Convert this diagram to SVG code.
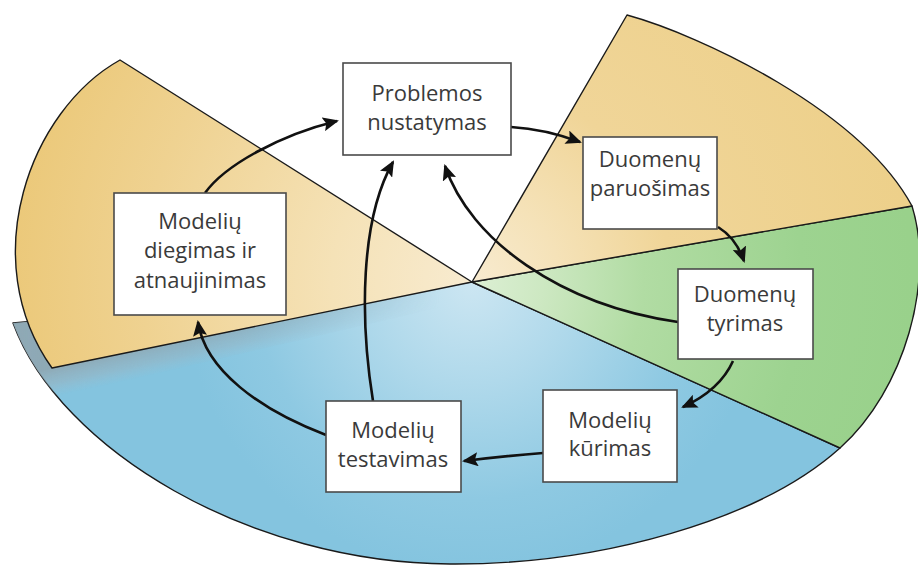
<svg xmlns="http://www.w3.org/2000/svg" width="918" height="565" viewBox="0 0 918 565">
  <defs>
    <style>
      .sector { stroke: #1a1a1a; stroke-width: 1.4; stroke-linejoin: round; }
      .box { fill: #ffffff; stroke: #4a4a4a; stroke-width: 1.6; }
      .label { font-family: "Open Sans", "Noto Sans", "Liberation Sans", sans-serif; font-size: 22px; fill: #3a3a3a; text-anchor: middle; }
      .flow { fill: none; stroke: #111111; stroke-width: 2.6; marker-end: url(#arrowhead); }
    </style>
    <marker id="arrowhead" viewBox="0 0 16 14" refX="14" refY="7" markerWidth="16" markerHeight="14" markerUnits="userSpaceOnUse" orient="auto">
      <path d="M0,0 L16,7 L0,14 L3,7 Z" fill="#111111"/>
    </marker>
    <radialGradient id="tanLeft" gradientUnits="userSpaceOnUse" cx="472" cy="282" r="470">
      <stop offset="0" stop-color="#f8ebd0"/>
      <stop offset="0.3" stop-color="#f5e2b7"/>
      <stop offset="0.7" stop-color="#efd291"/>
      <stop offset="1" stop-color="#ebc878"/>
    </radialGradient>
    <radialGradient id="tanRight" gradientUnits="userSpaceOnUse" cx="472" cy="282" r="440">
      <stop offset="0" stop-color="#f8ebd0"/>
      <stop offset="0.2" stop-color="#f5e2b8"/>
      <stop offset="0.45" stop-color="#f0d598"/>
      <stop offset="1" stop-color="#edd08a"/>
    </radialGradient>
    <radialGradient id="greenFill" gradientUnits="userSpaceOnUse" cx="472" cy="282" r="440">
      <stop offset="0" stop-color="#dcefd4"/>
      <stop offset="0.16" stop-color="#cde8c2"/>
      <stop offset="0.39" stop-color="#b1dca3"/>
      <stop offset="0.75" stop-color="#9dd390"/>
      <stop offset="1" stop-color="#99d18b"/>
    </radialGradient>
    <radialGradient id="blueFill" gradientUnits="userSpaceOnUse" cx="472" cy="282" r="290">
      <stop offset="0" stop-color="#cce6f2"/>
      <stop offset="0.35" stop-color="#b0d9eb"/>
      <stop offset="0.75" stop-color="#8ec9e2"/>
      <stop offset="1" stop-color="#84c4df"/>
    </radialGradient>
    <linearGradient id="shadeFade" gradientUnits="userSpaceOnUse" x1="200" y1="336" x2="206" y2="364">
      <stop offset="0" stop-color="#8fa6b1" stop-opacity="0.95"/>
      <stop offset="0.55" stop-color="#98b2bf" stop-opacity="0.6"/>
      <stop offset="1" stop-color="#9fbccb" stop-opacity="0"/>
    </linearGradient>
    <linearGradient id="shadeMaskGrad" gradientUnits="userSpaceOnUse" x1="0" y1="0" x2="440" y2="0">
      <stop offset="0" stop-color="#ffffff"/>
      <stop offset="0.55" stop-color="#ffffff" stop-opacity="0.75"/>
      <stop offset="1" stop-color="#ffffff" stop-opacity="0"/>
    </linearGradient>
    <mask id="shadeMask" maskUnits="userSpaceOnUse" x="0" y="0" width="918" height="565">
      <rect x="0" y="0" width="918" height="565" fill="url(#shadeMaskGrad)"/>
    </mask>
    <clipPath id="blueClip">
      <path d="M13,323 L472,282 L840,448 C760,520 600,565 450,564 C250,563 60,450 13,323 Z"/>
    </clipPath>
  </defs>

  <rect x="0" y="0" width="918" height="565" fill="#ffffff"/>

  <!-- pie sectors -->
  <g id="sectors">
    <path id="sector-blue" class="sector" fill="url(#blueFill)" d="M13,323 L472,282 L840,448 C760,520 600,565 450,564 C250,563 60,450 13,323 Z"/>
    <!-- shaded strip under the left sector -->
    <g clip-path="url(#blueClip)" mask="url(#shadeMask)">
      <polygon points="0,318 472,282 472,300 0,410" fill="url(#shadeFade)"/>
    </g>
    <path id="sector-green" class="sector" fill="url(#greenFill)" d="M472,282 L912,206 C935,280 905,390 840,448 Z"/>
    <path id="sector-tan-right" class="sector" fill="url(#tanRight)" d="M472,282 L627,15 C700,35 860,110 912,206 Z"/>
    <path id="sector-tan-left" class="sector" fill="url(#tanLeft)" d="M472,282 L120,60 C30,110 -25,260 52,368 Z"/>
  </g>

  <!-- connectors -->
  <g id="connectors">
    <path class="flow" d="M205,193 C225,165 280,135 337,121"/>
    <path class="flow" d="M511,127 Q545,129 580,142"/>
    <path class="flow" d="M718,227 Q736,238 744,261"/>
    <path class="flow" d="M678,322 C560,305 470,240 445,166"/>
    <path class="flow" d="M733,361 Q720,390 683,407"/>
    <path class="flow" d="M543,453 Q505,456 464,461"/>
    <path class="flow" d="M373,401 C360,320 360,220 393,162"/>
    <path class="flow" d="M326,435 C260,410 205,370 198,322"/>
  </g>

  <!-- nodes -->
  <g id="node-problemos">
    <rect class="box" x="343" y="63" width="168" height="92"/>
    <text class="label" x="427" y="101">Problemos</text>
    <text class="label" x="427" y="130">nustatymas</text>
  </g>
  <g id="node-paruosimas">
    <rect class="box" x="583" y="137" width="134" height="92"/>
    <text class="label" x="650" y="167">Duomenų</text>
    <text class="label" x="650" y="196">paruošimas</text>
  </g>
  <g id="node-tyrimas">
    <rect class="box" x="678" y="269" width="135" height="90"/>
    <text class="label" x="745" y="302">Duomenų</text>
    <text class="label" x="745" y="331">tyrimas</text>
  </g>
  <g id="node-kurimas">
    <rect class="box" x="543" y="390" width="134" height="92"/>
    <text class="label" x="610" y="428">Modelių</text>
    <text class="label" x="610" y="456">kūrimas</text>
  </g>
  <g id="node-testavimas">
    <rect class="box" x="326" y="401" width="135" height="91"/>
    <text class="label" x="393" y="438">Modelių</text>
    <text class="label" x="393" y="467">testavimas</text>
  </g>
  <g id="node-diegimas">
    <rect class="box" x="114" y="193" width="172" height="122"/>
    <text class="label" x="200" y="229">Modelių</text>
    <text class="label" x="200" y="258">diegimas ir</text>
    <text class="label" x="200" y="288">atnaujinimas</text>
  </g>
</svg>
